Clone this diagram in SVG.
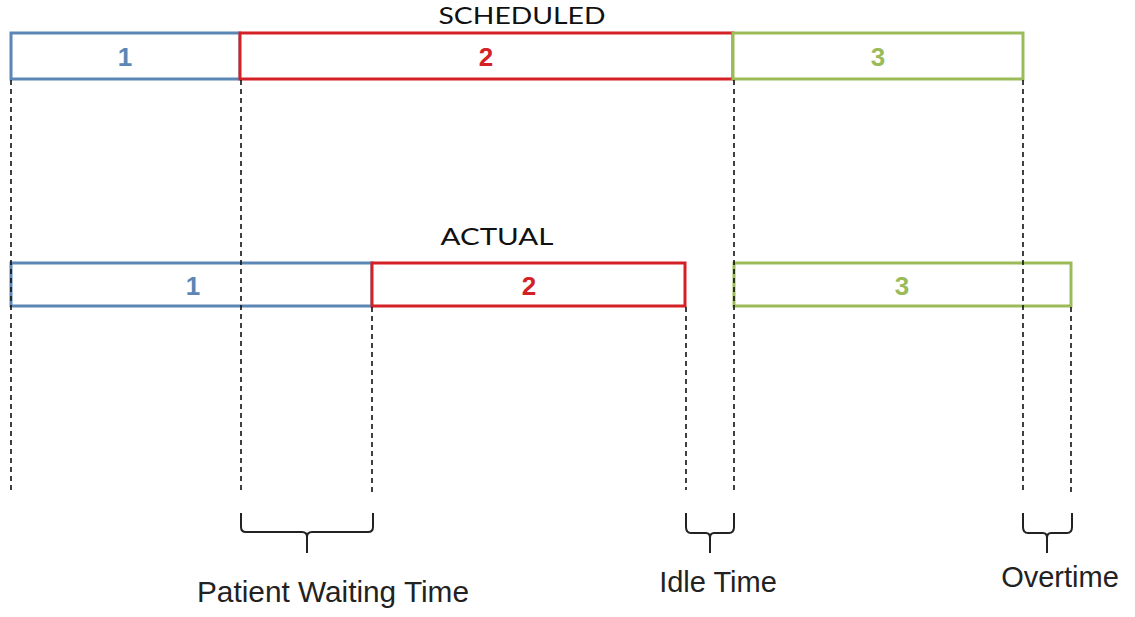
<svg xmlns="http://www.w3.org/2000/svg" width="1135" height="617" viewBox="0 0 1135 617">
<style>
.box{fill:#fff;stroke-width:3}
.b{stroke:#5b86b5}.r{stroke:#d42126}.g{stroke:#9bbb59}
.num{font-family:"Liberation Sans",Arial,sans-serif;font-weight:bold;font-size:26px;text-anchor:middle}
.nb{fill:#5b86b5}.nr{fill:#d42126}.ng{fill:#9bbb59}
.hdr{font-family:"Lato","Open Sans",sans-serif;font-size:23px;text-anchor:middle;fill:#111}
.lbl{font-family:"Liberation Sans",Arial,sans-serif;font-size:29px;text-anchor:middle;fill:#222}
.dash{stroke:#111;stroke-width:1.6;stroke-dasharray:5 4;fill:none}
.brace{stroke:#222;stroke-width:2;fill:none}
</style>
<rect width="1135" height="617" fill="#fff"/>
<text class="hdr" x="522" y="24" textLength="167" lengthAdjust="spacingAndGlyphs">SCHEDULED</text>
<g id="s1"><rect class="box b" x="11" y="33" width="229" height="46"/><text class="num nb" x="125" y="66">1</text></g>
<g id="s2"><rect class="box r" x="240" y="33" width="493" height="46"/><text class="num nr" x="486" y="66">2</text></g>
<g id="s3"><rect class="box g" x="733" y="33" width="290" height="46"/><text class="num ng" x="878" y="66">3</text></g>
<text class="hdr" x="497" y="245" textLength="113" lengthAdjust="spacingAndGlyphs">ACTUAL</text>
<g id="a1"><rect class="box b" x="11" y="263" width="361" height="43"/><text class="num nb" x="193" y="295">1</text></g>
<g id="a2"><rect class="box r" x="372" y="263" width="313" height="43"/><text class="num nr" x="529" y="295">2</text></g>
<g id="a3"><rect class="box g" x="734" y="263" width="337" height="43"/><text class="num ng" x="902" y="295">3</text></g>
<g id="connectors">
<path class="dash" d="M11,80V492M241,80V492M372,307V492M686,307V490M734,80V492M1023,80V492M1071,307V492"/>
</g>
<g id="brace-wait"><path class="brace" d="M241,513V527Q241,532 246,532H302Q307,532 307,537V553M373,513V527Q373,532 368,532H312Q307,532 307,537"/><text class="lbl" x="333" y="602" textLength="272" lengthAdjust="spacingAndGlyphs">Patient Waiting Time</text></g>
<g id="brace-idle"><path class="brace" d="M686,513V527Q686,533 691,533H706Q710,533 710,538V553M734,513V527Q734,533 729,533H714Q710,533 710,538"/><text class="lbl" x="718" y="592">Idle Time</text></g>
<g id="brace-over"><path class="brace" d="M1023,513V527Q1023,533 1028,533H1043Q1047,533 1047,538V553M1072,513V527Q1072,533 1067,533H1051Q1047,533 1047,538"/><text class="lbl" x="1060" y="587">Overtime</text></g>
</svg>
